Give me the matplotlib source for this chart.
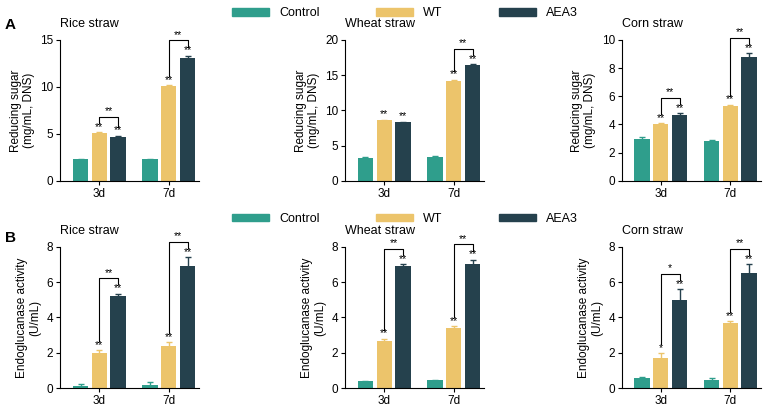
import matplotlib
matplotlib.use("Agg")
import matplotlib.pyplot as plt
import numpy as np
from matplotlib.patches import Patch

plt.rcParams['font.family'] = ['Liberation Sans', 'DejaVu Sans']
plt.rcParams['font.size'] = 8.5

groups = ["3d", "7d"]
series = ["Control", "WT", "AEA3"]
colors = ["#2f9e8c", "#ecc46b", "#25414d"]
titles = ["Rice straw", "Wheat straw", "Corn straw"]

# Row A: reducing sugar
sugar = [
    {"Control": [2.3, 2.3], "WT": [5.1, 10.1], "AEA3": [4.7, 13.1]},
    {"Control": [3.3, 3.4], "WT": [8.6, 14.2], "AEA3": [8.3, 16.4]},
    {"Control": [3.0, 2.8], "WT": [4.0, 5.3], "AEA3": [4.7, 8.8]},
]
sugar_err = [
    {"Control": [0.05, 0.05], "WT": [0.08, 0.1], "AEA3": [0.08, 0.2]},
    {"Control": [0.08, 0.08], "WT": [0.1, 0.15], "AEA3": [0.1, 0.15]},
    {"Control": [0.08, 0.08], "WT": [0.08, 0.1], "AEA3": [0.1, 0.25]},
]
sugar_ymax = [15, 20, 10]
sugar_ticks = [[0, 5, 10, 15], [0, 5, 10, 15, 20], [0, 2, 4, 6, 8, 10]]
sugar_stars = [
    {"WT": ["**", "**"], "AEA3": ["**", "**"], "pair": ["**", "**"]},
    {"WT": ["**", "**"], "AEA3": ["**", "**"], "pair": [None, "**"]},
    {"WT": ["**", "**"], "AEA3": ["**", "**"], "pair": ["**", "**"]},
]

# Row B: endoglucanase
endo = [
    {"Control": [0.15, 0.2], "WT": [2.0, 2.4], "AEA3": [5.2, 6.9]},
    {"Control": [0.4, 0.45], "WT": [2.7, 3.4], "AEA3": [6.9, 7.0]},
    {"Control": [0.6, 0.5], "WT": [1.7, 3.7], "AEA3": [5.0, 6.5]},
]
endo_err = [
    {"Control": [0.1, 0.15], "WT": [0.15, 0.2], "AEA3": [0.15, 0.5]},
    {"Control": [0.03, 0.03], "WT": [0.1, 0.1], "AEA3": [0.1, 0.25]},
    {"Control": [0.05, 0.1], "WT": [0.3, 0.1], "AEA3": [0.6, 0.5]},
]
endo_stars = [
    {"WT": ["**", "**"], "AEA3": ["**", "**"], "pair": ["**", "**"]},
    {"WT": ["**", "**"], "AEA3": ["**", "**"], "pair": ["**", "**"]},
    {"WT": ["*", "**"], "AEA3": ["**", "**"], "pair": ["*", "**"]},
]

fig = plt.figure(figsize=(7.64, 4.11), dpi=100)
lefts = [0.079, 0.452, 0.814]
width = 0.182
offs = [-0.27, 0.0, 0.27]
bw = 0.22


def draw(ax, data, err, stars, ymax, ticks, title, ylabel):
    x = np.arange(len(groups))
    for i, s in enumerate(series):
        ax.bar(x + offs[i], data[s], bw, color=colors[i], yerr=err[s],
               error_kw=dict(ecolor=colors[i], capsize=2, elinewidth=1), zorder=2)
    u = ymax * 0.025
    for i, s in enumerate(["WT", "AEA3"]):
        k = i + 1
        for g in range(2):
            st = stars[s][g]
            if st:
                ax.text(x[g] + offs[k], data[s][g] + err[s][g] + u * 0.1, st,
                        ha="center", va="bottom", fontsize=7.5, clip_on=False)
    for g in range(2):
        st = stars["pair"][g]
        if st:
            y1 = data["WT"][g] + err["WT"][g] + 2.6 * u
            y2 = data["AEA3"][g] + err["AEA3"][g] + 2.6 * u
            top = max(y1, y2) + 1.8 * u
            ax.plot([x[g] + offs[1], x[g] + offs[1], x[g] + offs[2], x[g] + offs[2]],
                    [y1, top, top, y2], color="black", lw=0.8, clip_on=False)
            ax.text(x[g] + (offs[1] + offs[2]) / 2, top + u * 0.1, st,
                    ha="center", va="bottom", fontsize=7.5, clip_on=False)
    ax.set_xlim(-0.56, 1.44)
    ax.set_ylim(0, ymax)
    ax.set_yticks(ticks)
    ax.set_xticks(x)
    ax.set_xticklabels(groups)
    ax.spines[["top", "right"]].set_visible(False)
    ax.tick_params(length=3, pad=2)
    ax.set_title(title, loc="left", fontsize=9, pad=9)
    ax.set_ylabel(ylabel, fontsize=8.5, linespacing=1.1)


for c in range(3):
    ax = fig.add_axes([lefts[c], 0.56, width, 0.343])
    draw(ax, sugar[c], sugar_err[c], sugar_stars[c], sugar_ymax[c], sugar_ticks[c],
         titles[c], "Reducing sugar\n(mg/mL, DNS)")
    ax = fig.add_axes([lefts[c], 0.055, width, 0.345])
    draw(ax, endo[c], endo_err[c], endo_stars[c], 8, [0, 2, 4, 6, 8],
         titles[c], "Endoglucanase activity\n(U/mL)")

handles = [Patch(color=colors[i], label=series[i]) for i in range(3)]
for y in [1.0, 0.5]:
    fig.legend(handles=handles, loc="upper center", bbox_to_anchor=(0.53, y),
               ncol=3, frameon=False, handlelength=3.0, handleheight=0.5,
               columnspacing=4.5, fontsize=9, borderpad=0.1)

fig.text(0.006, 0.93, "A", fontsize=11, fontweight="bold")
fig.text(0.006, 0.41, "B", fontsize=11, fontweight="bold")

fig.savefig("out.png", dpi=100)
